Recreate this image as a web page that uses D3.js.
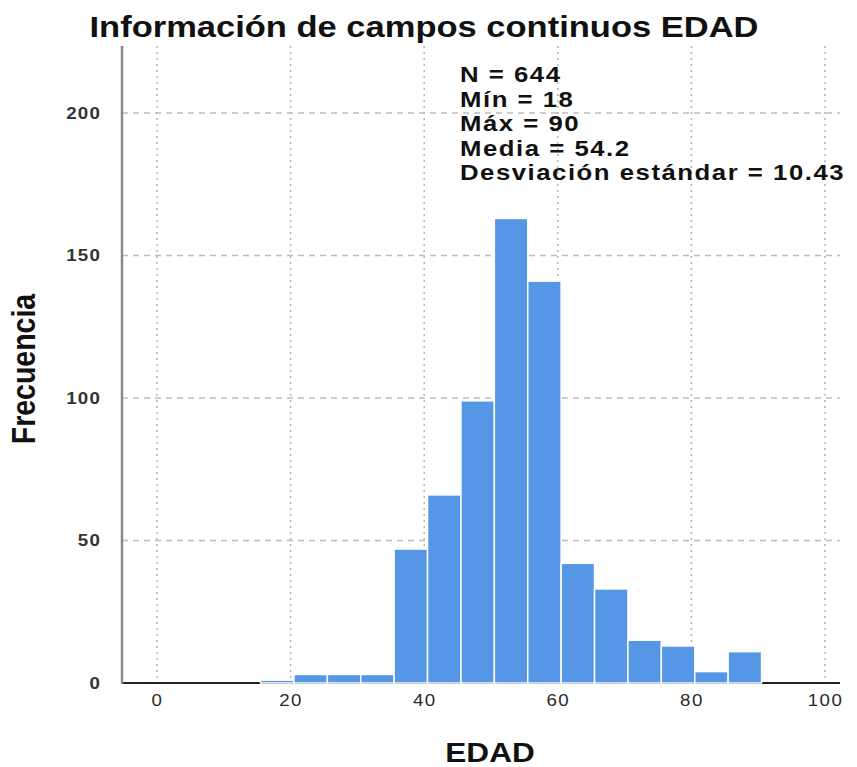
<!DOCTYPE html>
<html>
<head>
<meta charset="utf-8">
<script src="https://cdn.jsdelivr.net/npm/d3@7"></script>
<style>
  body { margin: 0; background: #fff; }
  text { font-family: "Liberation Sans", Arial, sans-serif; }
</style>
</head>
<body>
<script>
// histogram bins (EDAD), width 5
var binStarts = [15.5, 20.5, 25.5, 30.5, 35.5, 40.5, 45.5, 50.5, 55.5, 60.5, 65.5, 70.5, 75.5, 80.5, 85.5];
var binEnds   = [20.5, 25.5, 30.5, 35.5, 40.5, 45.5, 50.5, 55.5, 60.5, 65.5, 70.5, 75.5, 80.5, 85.5, 90.5];
var counts    = [1, 3, 3, 3, 47, 66, 99, 163, 141, 42, 33, 15, 13, 4, 11];
var xTicks = [0, 20, 40, 60, 80, 100];
var yTicks = [0, 50, 100, 150, 200];
var statsLines = ["N = 644", "Mín = 18", "Máx = 90", "Media = 54.2", "Desviación estándar = 10.43"];

var width = 857, height = 767;
var plotLeft = 122, plotRight = 840, plotTop = 46, plotBottom = 683;
var stretch = 1.17; // the original glyphs are a bit wider than tall

var svg = d3.select("body").append("svg")
    .attr("width", width)
    .attr("height", height);

var x_scale = d3.scaleLinear().domain([0, 100]).range([157, 825]);
var y_scale = d3.scaleLinear().domain([0, 200]).range([plotBottom, 113]);

// vertical dotted grid
svg.append("g")
    .selectAll("line")
    .data(xTicks)
  .enter().append("line")
    .attr("x1", function(d) { return x_scale(d); })
    .attr("x2", function(d) { return x_scale(d); })
    .attr("y1", plotTop)
    .attr("y2", plotBottom)
    .style("stroke", "#b4b4b4")
    .style("stroke-width", 1.5)
    .style("stroke-dasharray", "2,4");

// horizontal dashed grid
svg.append("g")
    .selectAll("line")
    .data(yTicks.filter(function(d) { return d > 0; }))
  .enter().append("line")
    .attr("x1", plotLeft)
    .attr("x2", plotRight)
    .attr("y1", function(d) { return y_scale(d); })
    .attr("y2", function(d) { return y_scale(d); })
    .style("stroke", "#bdbdbd")
    .style("stroke-width", 1.5)
    .style("stroke-dasharray", "6,5");

// x baseline
svg.append("line")
    .attr("x1", plotLeft).attr("x2", plotRight)
    .attr("y1", plotBottom).attr("y2", plotBottom)
    .style("stroke", "#222")
    .style("stroke-width", 2);

// bars
var bins = counts.map(function(c, i) { return {x0: binStarts[i], x1: binEnds[i], n: c}; });
svg.append("g")
    .selectAll("rect")
    .data(bins)
  .enter().append("rect")
    .attr("x", function(d) { return x_scale(d.x0); })
    .attr("width", function(d) { return x_scale(d.x1) - x_scale(d.x0); })
    .attr("y", function(d) { return y_scale(d.n); })
    .attr("height", function(d) { return plotBottom - y_scale(d.n); })
    .style("fill", "#5596e6")
    .style("stroke", "#ffffff")
    .style("stroke-width", 1.5);

// y axis line
svg.append("line")
    .attr("x1", plotLeft).attr("x2", plotLeft)
    .attr("y1", plotTop).attr("y2", plotBottom + 1)
    .style("stroke", "#8a8a8a")
    .style("stroke-width", 2.5);

// x tick labels
var x_axis = d3.axisBottom(x_scale).tickValues(xTicks).tickSize(0).tickPadding(0);
var gx = svg.append("g")
    .attr("transform", "translate(0," + (plotBottom + 12) + ")")
    .call(x_axis);
gx.select(".domain").remove();
gx.selectAll("text")
    .attr("dy", "0.71em")
    .attr("transform", "scale(" + stretch + ",1)")
    .style("font-family", "'Liberation Sans', Arial, sans-serif")
    .style("font-size", "16px")
    .style("letter-spacing", "1.2px")
    .style("fill", "#2a2a2a");

// y tick labels
var y_axis = d3.axisLeft(y_scale).tickValues(yTicks).tickSize(0).tickPadding(0);
var gy = svg.append("g")
    .attr("transform", "translate(101,0)")
    .call(y_axis);
gy.select(".domain").remove();
gy.selectAll("text")
    .attr("transform", "scale(" + stretch + ",1)")
    .style("font-family", "'Liberation Sans', Arial, sans-serif")
    .style("font-size", "16px")
    .style("font-weight", "bold")
    .style("letter-spacing", "1px")
    .style("fill", "#333");

// title
svg.append("text")
    .attr("transform", "translate(424,37) scale(" + stretch + ",1)")
    .attr("text-anchor", "middle")
    .style("font-size", "29.5px")
    .style("font-weight", "bold")
    .style("fill", "#111")
    .text("Información de campos continuos EDAD");

// stats box
svg.append("g")
    .selectAll("text")
    .data(statsLines)
  .enter().append("text")
    .attr("transform", function(d, i) {
      return "translate(460," + (82 + i * 24.5) + ") scale(" + stretch + ",1)";
    })
    .style("font-size", "22px")
    .style("font-weight", "bold")
    .style("letter-spacing", "1.3px")
    .style("fill", "#111")
    .text(function(d) { return d; });

// axis titles
svg.append("text")
    .attr("transform", "translate(490,762) scale(" + stretch + ",1)")
    .attr("text-anchor", "middle")
    .style("font-size", "27px")
    .style("font-weight", "bold")
    .style("fill", "#111")
    .text("EDAD");

svg.append("text")
    .attr("transform", "translate(35,369) rotate(-90) scale(1," + stretch + ")")
    .attr("text-anchor", "middle")
    .style("font-size", "28.5px")
    .style("font-weight", "bold")
    .style("fill", "#111")
    .text("Frecuencia");
</script>
</body>
</html>
